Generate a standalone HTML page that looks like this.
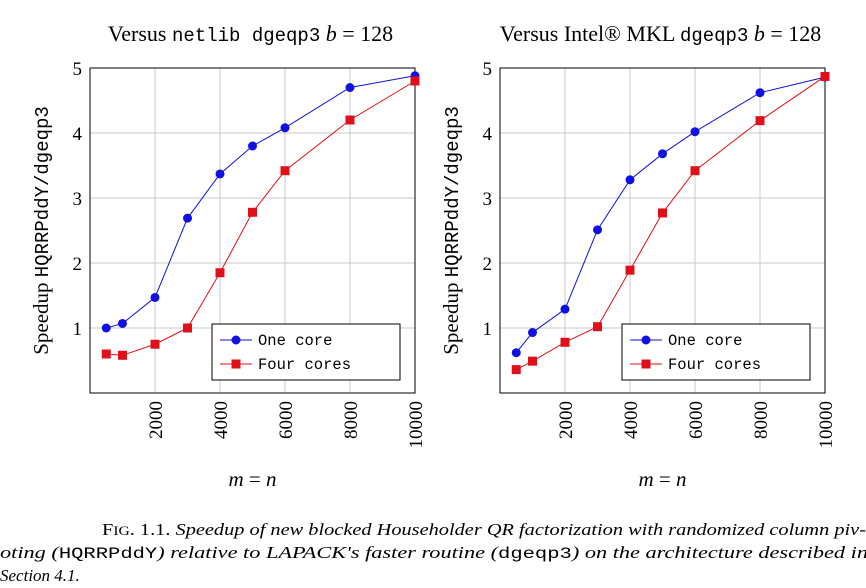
<!DOCTYPE html>
<html><head><meta charset="utf-8"><style>
body{margin:0;background:#fff;width:866px;height:588px;overflow:hidden;font-family:"Liberation Serif",serif;}
.mono{font-family:"Liberation Mono",monospace;font-size:0.92em;}
.cap{position:absolute;left:0;top:519px;width:900px;font-size:17px;line-height:21.5px;color:#000;font-family:"Liberation Serif",serif;}
.ln{display:inline-block;white-space:nowrap;transform-origin:0 0;}
</style></head><body>
<svg id="c" width="866" height="520" style="position:absolute;left:0;top:0"></svg>
<div class="cap">
<div style="padding-left:102px"><span class="ln" id="l1" data-w="764">F<span style="font-size:13px">IG</span>. 1.1. <i>Speedup of new blocked Householder QR factorization with randomized column piv-</i></span></div>
<div><span class="ln" id="l2" data-w="868"><i>oting (</i><span class="mono">HQRRPddY</span><i>) relative to LAPACK's faster routine (</i><span class="mono">dgeqp3</span><i>) on the architecture described in</i></span></div>
<div><i>Section 4.1.</i></div>
</div>
<script>
const xs=[500,1000,2000,3000,4000,5000,6000,8000,10000];
const one1=[1.0,1.07,1.47,2.69,3.37,3.8,4.08,4.7,4.88];
const four1=[0.6,0.58,0.75,1.0,1.85,2.78,3.42,4.2,4.8];
const one2=[0.62,0.93,1.29,2.51,3.28,3.68,4.02,4.62,4.86];
const four2=[0.36,0.49,0.78,1.02,1.89,2.77,3.42,4.19,4.87];
const xTicks=[2000,4000,6000,8000,10000];
const yTicks=[1,2,3,4,5];
const NS="http://www.w3.org/2000/svg";
const svg=document.getElementById('c');
const SERIF='font-family:"Liberation Serif",serif;';
const MONO='font-family:"Liberation Mono",monospace;';
function mk(t,a,p){const e=document.createElementNS(NS,t);for(const k in a)e.setAttribute(k,a[k]);(p||svg).appendChild(e);return e;}
function panel(L,title,one,four,name){
  const T=68,W=325,H=325;
  const g=mk('g',{});
  
  
  const X=v=>L+v/10000*W, Y=v=>T+H-v/5*H;
  xTicks.forEach(t=>{mk('line',{x1:X(t),x2:X(t),y1:T,y2:T+H,stroke:'#c8c8c8','stroke-width':1},g);
    const tx=mk('text',{x:0,y:0,style:SERIF+'font-size:19px','text-anchor':'end',transform:`translate(${X(t)+7},${T+H+8}) rotate(-90)`},g);tx.textContent=t;
    });
  yTicks.forEach(t=>{mk('line',{x1:L,x2:L+W,y1:Y(t),y2:Y(t),stroke:'#c8c8c8','stroke-width':1},g);
    const ty=mk('text',{x:L-8,y:Y(t)+7,style:SERIF+'font-size:19px','text-anchor':'end'},g);ty.textContent=t;
    });
  mk('rect',{x:L,y:T,width:W,height:H,fill:'none',stroke:'#000','stroke-width':1},g);
  const tt=mk('text',{x:L+W/2-2,y:41,style:SERIF+'font-size:22px','text-anchor':'middle'},g);tt.innerHTML=title;
  
  const xl=mk('text',{x:L+W/2,y:486,style:SERIF+'font-size:21px;font-style:italic','text-anchor':'middle'},g);xl.innerHTML='m <tspan style="font-style:normal">=</tspan> n';
  
  const yl=mk('text',{x:0,y:0,style:SERIF+'font-size:21px','text-anchor':'middle',transform:`translate(${L-42},${T+H/2}) rotate(-90)`},g);
  yl.innerHTML='Speedup <tspan style=\''+MONO+'font-size:19px\'>HQRRPddY/dgeqp3</tspan>';
  
  [[one,'#1010e0','c','one-core'],[four,'#e0101a','s','four-cores']].forEach(([d,col,m,nm])=>{
    const pl=mk('polyline',{points:d.map((v,i)=>X(xs[i])+','+Y(v)).join(' '),fill:'none',stroke:col,'stroke-width':1},g);
    
    d.forEach((v,i)=>{let e;
      if(m=='c')e=mk('circle',{cx:X(xs[i]),cy:Y(v),r:4.5,fill:col},g);
      else e=mk('rect',{x:X(xs[i])-4.5,y:Y(v)-4.5,width:9,height:9,fill:col},g);
      });
  });
  const lg=mk('g',{},g);
  const lx=L+122,ly=T+256;
  mk('rect',{x:lx,y:ly,width:188,height:56,fill:'#fff',stroke:'#000','stroke-width':1},lg);
  mk('line',{x1:lx+8,x2:lx+40,y1:ly+16,y2:ly+16,stroke:'#1010e0'},lg);mk('circle',{cx:lx+24,cy:ly+16,r:4.5,fill:'#1010e0'},lg);
  mk('line',{x1:lx+8,x2:lx+40,y1:ly+40,y2:ly+40,stroke:'#e0101a'},lg);mk('rect',{x:lx+19.5,y:ly+35.5,width:9,height:9,fill:'#e0101a'},lg);
  const a=mk('text',{x:lx+46,y:ly+21,style:MONO+'font-size:15.5px'},lg);a.textContent='One core';
  
  const b=mk('text',{x:lx+46,y:ly+45,style:MONO+'font-size:15.5px'},lg);b.textContent='Four cores';
  
}
panel(90,'Versus <tspan style=\''+MONO+'font-size:19px\'>netlib dgeqp3</tspan> <tspan style="font-style:italic">b</tspan> = 128',one1,four1,'netlib-chart');
panel(500,'Versus Intel® MKL <tspan style=\''+MONO+'font-size:19px\'>dgeqp3</tspan> <tspan style="font-style:italic">b</tspan> = 128',one2,four2,'mkl-chart');
['l1','l2'].forEach(id=>{const e=document.getElementById(id);const w=e.getBoundingClientRect().width;e.style.transform='scaleX('+(+e.dataset.w/w)+')';});
</script>
</body></html>
